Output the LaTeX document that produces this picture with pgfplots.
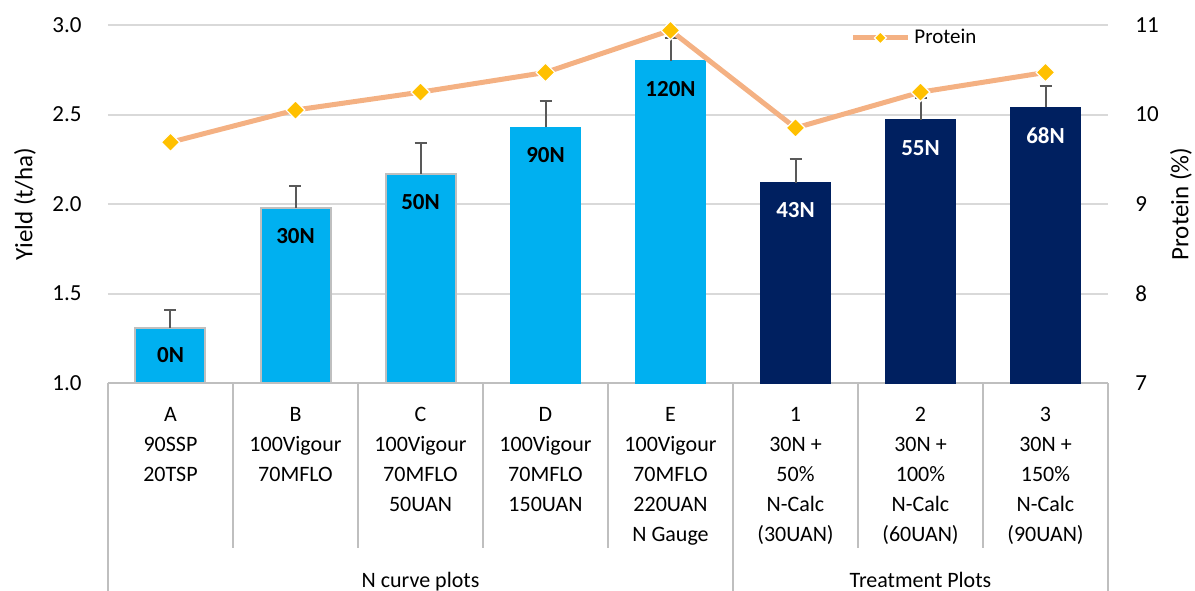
\documentclass[border=0pt]{standalone}
\usepackage{pgfplots}
\pgfplotsset{compat=1.18}
\usepackage{pgfplotstable}
\usepackage{fontspec}
\setmainfont{Carlito}
\definecolor{lightblue}{HTML}{00B0F0}
\definecolor{navy}{HTML}{002060}
\definecolor{linec}{HTML}{F4B183}
\definecolor{markc}{HTML}{FFC000}
\definecolor{gridc}{HTML}{D9D9D9}
\definecolor{sepc}{HTML}{BFBFBF}
\definecolor{errc}{HTML}{595959}

\pgfplotstableread{
x y e l
0 1.31 0.10 0N
1 1.98 0.12 30N
2 2.17 0.17 50N
}\curveA
\pgfplotstableread{
x y e l
3 2.43 0.145 90N
4 2.80 0.13 120N
}\curveB
\pgfplotstableread{
x y e l
5 2.12 0.13 43N
6 2.47 0.12 55N
7 2.54 0.12 68N
}\treat
\pgfplotstableread{
x p
0 9.69
1 10.05
2 10.25
3 10.47
4 10.94
5 9.85
6 10.25
7 10.47
}\prot

\begin{document}
\begin{tikzpicture}
\pgfplotsset{
 common/.style={
  width=500pt, height=179pt, scale only axis,
  xmin=-0.5, xmax=7.5,
  /pgf/number format/assume math mode=true,
  tick label style={font=\fontsize{11.5}{13}\selectfont, text=black},
  label style={font=\fontsize{12.5}{14}\selectfont},
  axis line style={draw=none},
  tick style={draw=none},
  major tick length=0pt,
 },
 barstyle/.style={ybar, bar width=0.56, bar shift=0pt,
  error bars/y dir=plus, error bars/y explicit,
  error bars/error bar style={errc, line width=1pt},
  error bars/error mark options={errc, rotate=90, mark size=3pt, line width=1pt},
  nodes near coords, point meta=explicit symbolic},
}
\begin{axis}[common,
  ymin=1, ymax=3, ytick={1,1.5,2,2.5,3},
  yticklabel style={/pgf/number format/fixed, /pgf/number format/fixed zerofill, /pgf/number format/precision=1, anchor=east, inner sep=0pt, xshift=-13pt},
  ymajorgrids, grid style={gridc, line width=1pt},
  xtick={0,...,7},
  xticklabels={{A\\90SSP\\20TSP},{B\\100Vigour\\70MFLO},{C\\100Vigour\\70MFLO\\50UAN},{D\\100Vigour\\70MFLO\\150UAN},{E\\100Vigour\\70MFLO\\220UAN\\N Gauge},{1\\30N +\\50\%\\N-Calc\\(30UAN)},{2\\30N +\\100\%\\N-Calc\\(60UAN)},{3\\30N +\\150\%\\N-Calc\\(90UAN)}},
  xticklabel style={anchor=north, align=center, inner sep=0pt, yshift=-12pt, font=\fontsize{11}{15}\selectfont},
  ylabel={Yield (t/ha)},
  ylabel style={at={(axis description cs:-0.083,0.5)}, anchor=center},
  clip=false,
]
\draw[sepc, line width=1pt] (axis cs:-0.5,1) -- (axis cs:7.5,1);
\pgfplotsinvokeforeach{0.5,1.5,2.5,3.5,5.5,6.5}{\draw[sepc, line width=1pt] (axis cs:#1,1) -- ([yshift=-82.5pt]axis cs:#1,1);}
\pgfplotsinvokeforeach{-0.5,4.5,7.5}{\draw[sepc, line width=1pt] (axis cs:#1,1) -- ([yshift=-104pt]axis cs:#1,1);}
\node[anchor=base, yshift=-102pt, font=\fontsize{11}{13}\selectfont] at (axis cs:2,1) {N curve plots};
\node[anchor=base, yshift=-102pt, font=\fontsize{11}{13}\selectfont] at (axis cs:6,1) {Treatment Plots};
\addplot[barstyle, fill=lightblue, draw=sepc, line width=1pt,
  nodes near coords style={anchor=center, yshift=-14pt, font=\bfseries\fontsize{11.5}{13}\selectfont, text=black}]
  table[x=x, y=y, y error=e, meta=l] {\curveA};
\addplot[barstyle, fill=lightblue, draw=lightblue, line width=0pt,
  nodes near coords style={anchor=center, yshift=-14pt, font=\bfseries\fontsize{11.5}{13}\selectfont, text=black}]
  table[x=x, y=y, y error=e, meta=l] {\curveB};
\addplot[barstyle, fill=navy, draw=navy, line width=0pt,
  nodes near coords style={anchor=center, yshift=-14pt, font=\bfseries\fontsize{11.5}{13}\selectfont, text=white}]
  table[x=x, y=y, y error=e, meta=l] {\treat};
\end{axis}
\begin{axis}[common,
  axis x line=none, axis y line*=right,
  ymin=7, ymax=11, ytick={7,8,9,10,11},
  yticklabel style={anchor=west, inner sep=0pt, xshift=13.5pt},
  ylabel={Protein (\%)},
  ylabel style={at={(axis description cs:1.073,0.5)}, anchor=center},
  legend style={at={(0.742,0.964)}, anchor=west, draw=none, fill=none, inner sep=0pt, font=\fontsize{10.5}{12}\selectfont},
  legend image code/.code={\draw[mark repeat=2, mark phase=2, #1, mark size=2.1pt] plot coordinates {(0pt,0pt) (13.75pt,0pt) (27.5pt,0pt)};},
  clip=false,
]
\addplot[linec, line width=2.5pt, mark=square*, mark size=3.3pt, mark options={rotate=45, fill=markc, draw=white, line width=0.6pt}] table[x=x, y=p] {\prot};
\addlegendentry{Protein}
\end{axis}
\pgfresetboundingbox
\useasboundingbox (-54pt,-103.5pt) rectangle (543.5pt,191.5pt);
\end{tikzpicture}
\end{document}
